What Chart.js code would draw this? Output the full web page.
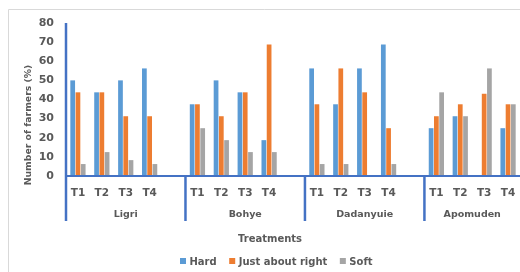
<!DOCTYPE html>
<html>
<head>
<meta charset="utf-8">
<script src="https://cdn.jsdelivr.net/npm/chart.js@4.4.1/dist/chart.umd.min.js"></script>
<style>
  html, body { margin: 0; padding: 0; background: #fff; }
  #chart { display: block; }
</style>
</head>
<body>
<canvas id="chart" width="520" height="272"></canvas>
<script>
// values (percent of farmers)
const locations = ['Ligri', 'Bohye', 'Dadanyuie', 'Apomuden'];
const treatments = ['T1', 'T2', 'T3', 'T4'];
const hard      = [[50, 43.75, 50, 56.25], [37.5, 50, 43.75, 18.75], [56.25, 37.5, 56.25, 68.75], [25, 31.25, 0, 25]];
const justRight = [[43.75, 43.75, 31.25, 31.25], [37.5, 31.25, 43.75, 68.75], [37.5, 56.25, 43.75, 25], [31.25, 37.5, 43, 37.5]];
const soft      = [[6.25, 12.5, 8.3, 6.25], [25, 18.75, 12.5, 12.5], [6.25, 6.25, 0, 6.25], [43.75, 31.25, 56.25, 37.5]];
const yTicks = [0, 10, 20, 30, 40, 50, 60, 70, 80];

const TEXT = '#595959';
const AXIS = '#4472C4';
const FONT = '"DejaVu Sans", sans-serif';

// flatten into one category axis, with an empty slot between locations
const labels = [], hardPts = [], jarPts = [], softPts = [], groupStart = [];
locations.forEach((loc, g) => {
  groupStart.push(labels.length);
  treatments.forEach((t, i) => {
    labels.push(t);
    hardPts.push(hard[g][i]);
    jarPts.push(justRight[g][i]);
    softPts.push(soft[g][i]);
  });
  if (g < locations.length - 1) {
    labels.push('');
    hardPts.push(null); jarPts.push(null); softPts.push(null);
  }
});

const decorPlugin = {
  id: 'decor',
  beforeDraw(chart) {
    const ctx = chart.ctx;
    ctx.save();
    ctx.strokeStyle = '#d9d9d9';
    ctx.lineWidth = 1;
    ctx.beginPath();
    ctx.moveTo(8.5, 272); ctx.lineTo(8.5, 9.5); ctx.lineTo(520, 9.5);
    ctx.stroke();
    ctx.restore();
  },
  afterDatasetsDraw(chart) {
    const ctx = chart.ctx;
    const area = chart.chartArea;
    const x = chart.scales.x, y = chart.scales.y;
    const slot = (x.getPixelForValue(1) - x.getPixelForValue(0));
    const lowY = 221;
    ctx.save();
    ctx.strokeStyle = AXIS;
    // x axis line
    ctx.lineWidth = 2;
    ctx.beginPath();
    ctx.moveTo(area.left, y.getPixelForValue(0));
    ctx.lineTo(area.right, y.getPixelForValue(0));
    ctx.stroke();
    // y axis line, running down past the labels
    ctx.lineWidth = 2.5;
    ctx.beginPath();
    ctx.moveTo(area.left, y.getPixelForValue(yTicks[yTicks.length - 1]));
    ctx.lineTo(area.left, lowY);
    ctx.stroke();
    // group separators
    groupStart.slice(1).forEach(s => {
      const sx = x.getPixelForValue(s) - slot / 2;
      ctx.beginPath();
      ctx.moveTo(sx, y.getPixelForValue(0));
      ctx.lineTo(sx, lowY);
      ctx.stroke();
    });

    ctx.fillStyle = TEXT;
    ctx.textBaseline = 'alphabetic';
    ctx.textAlign = 'center';
    // location names
    ctx.font = 'bold 9.5px ' + FONT;
    locations.forEach((loc, g) => {
      const first = groupStart[g];
      const last = g < locations.length - 1 ? groupStart[g + 1] - 1 : labels.length - 1;
      const cx = (x.getPixelForValue(first) + x.getPixelForValue(last)) / 2;
      ctx.fillText(loc, cx, 217);
    });
    // axis titles
    ctx.font = 'bold 10px ' + FONT;
    ctx.fillText('Treatments', 270, 242);
    ctx.save();
    ctx.translate(31, 125);
    ctx.rotate(-Math.PI / 2);
    ctx.font = 'bold 9.3px ' + FONT;
    ctx.fillText('Number of farmers (%)', 0, 0);
    ctx.restore();

    // legend
    ctx.font = 'bold 10px ' + FONT;
    ctx.textAlign = 'left';
    let lx = 180;
    chart.data.datasets.forEach(ds => {
      ctx.fillStyle = ds.backgroundColor;
      ctx.fillRect(lx, 258, 6, 6);
      ctx.fillStyle = TEXT;
      ctx.fillText(ds.label, lx + 9.5, 264.5);
      lx += 9.5 + ctx.measureText(ds.label).width + 12.5;
    });
    ctx.restore();
  }
};

new Chart(document.getElementById('chart'), {
  type: 'bar',
  data: {
    labels: labels,
    datasets: [
      { label: 'Hard', data: hardPts, backgroundColor: '#5B9BD5' },
      { label: 'Just about right', data: jarPts, backgroundColor: '#ED7D31' },
      { label: 'Soft', data: softPts, backgroundColor: '#A5A5A5' }
    ]
  },
  options: {
    responsive: false,
    animation: false,
    devicePixelRatio: 1,
    layout: { padding: { top: 23, right: -1, left: 0, bottom: 0 } },
    datasets: { bar: { categoryPercentage: 0.66, barPercentage: 0.9 } },
    plugins: { legend: { display: false }, tooltip: { enabled: false } },
    scales: {
      x: {
        grid: { display: false, drawTicks: false },
        border: { display: false },
        ticks: { autoSkip: false, maxRotation: 0, padding: 11, color: TEXT, font: { family: FONT, weight: 'bold', size: 10.5 } },
        afterFit(scale) {
          scale.height = 96;
          scale.paddingLeft = 0;
          scale.paddingRight = 0;
        }
      },
      y: {
        min: 0, max: 80,
        grid: { display: false, drawTicks: false },
        border: { display: false },
        afterBuildTicks(scale) { scale.ticks = yTicks.map(v => ({ value: v })); },
        ticks: { padding: 12, color: TEXT, font: { family: FONT, weight: 'bold', size: 11 } },
        afterFit(scale) {
          scale.width = 66;
          scale.paddingTop = 0;
          scale.paddingBottom = 0;
        }
      }
    }
  },
  plugins: [decorPlugin]
});
</script>
</body>
</html>
